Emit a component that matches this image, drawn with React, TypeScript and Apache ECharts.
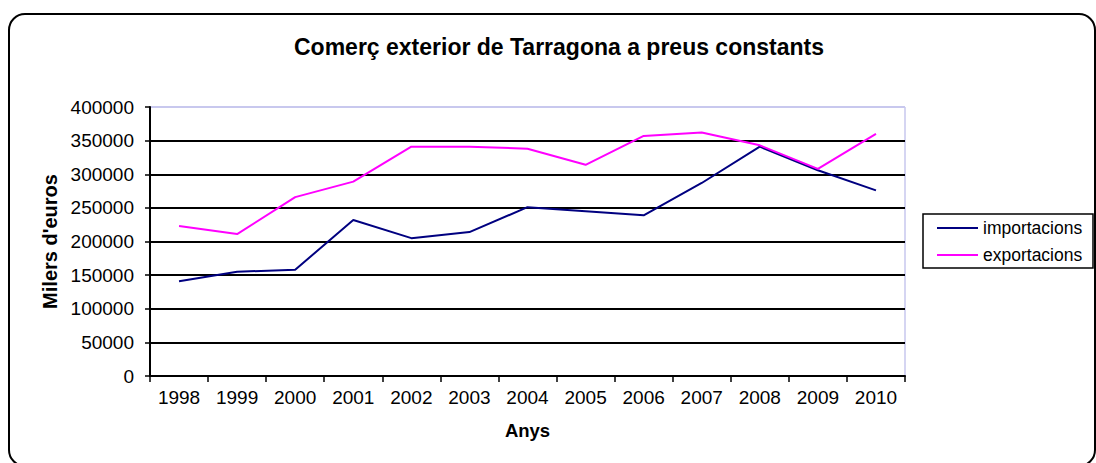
import React, { useEffect, useRef } from "react";
import * as echarts from "echarts";

const years = ["1998", "1999", "2000", "2001", "2002", "2003", "2004", "2005", "2006", "2007", "2008", "2009", "2010"];
const importacions = [141000, 155000, 158000, 232000, 205000, 214000, 251000, 245000, 239000, 287000, 341000, 306000, 276000];
const exportacions = [223000, 211000, 266000, 289000, 341000, 341000, 338000, 314000, 357000, 362000, 343000, 308000, 360000];
const titleText = "Comerç exterior de Tarragona a preus constants";
const yName = "Milers d'euros";
const xName = "Anys";

const FONT = "'Liberation Sans', Arial, sans-serif";

export default function App() {
  const ref = useRef<HTMLDivElement>(null);
  useEffect(() => {
    if (!ref.current) return;
    const chart = echarts.init(ref.current, undefined, { renderer: "svg" });
    const gridColors = ["#000", "#000", "#000", "#000", "#000", "#000", "#000", "#000", "#c8c8ee"];
    chart.setOption({
      animation: false,
      backgroundColor: "#fff",
      textStyle: { fontFamily: FONT },
      grid: { left: 150, top: 107, right: 191, bottom: 87 },
      graphic: [
        {
          type: "rect",
          shape: { x: 9, y: 14, width: 1086, height: 452, r: 16 },
          style: { fill: "none", stroke: "#000", lineWidth: 2 },
          z: 0,
        },
        {
          type: "text",
          x: 559,
          y: 47,
          style: {
            text: titleText,
            font: `bold 23px ${FONT}`,
            fill: "#000",
            align: "center",
            verticalAlign: "middle",
          },
        },
        {
          type: "rect",
          shape: { x: 905, y: 107, width: 0, height: 269 },
          style: { fill: "none", stroke: "#c8c8ee", lineWidth: 1.5 },
        },
        {
          type: "rect",
          shape: { x: 923, y: 214, width: 170, height: 54 },
          style: { fill: "none", stroke: "#000", lineWidth: 1.5 },
        },
      ],
      legend: {
        orient: "vertical",
        left: 937,
        top: 219,
        padding: 0,
        itemWidth: 41,
        itemHeight: 2,
        itemGap: 9,
        icon: "rect",
        textStyle: { fontFamily: FONT, fontSize: 17.5, color: "#000" },
        data: ["importacions", "exportacions"],
      },
      xAxis: {
        type: "category",
        data: years,
        boundaryGap: true,
        axisLine: { show: true, lineStyle: { color: "#000", width: 2 } },
        axisTick: { show: true, length: 6, lineStyle: { color: "#000", width: 1.5 } },
        axisLabel: { fontFamily: FONT, fontSize: 19, color: "#000", margin: 12, interval: 0 },
        name: xName,
        nameLocation: "middle",
        nameGap: 45,
        nameTextStyle: { fontFamily: FONT, fontSize: 18.5, fontWeight: "bold", color: "#000" },
        splitLine: { show: false },
      },
      yAxis: {
        type: "value",
        min: 0,
        max: 400000,
        interval: 50000,
        axisLine: { show: true, lineStyle: { color: "#000", width: 2 } },
        axisTick: { show: true, length: 5, lineStyle: { color: "#000", width: 1.5 } },
        axisLabel: {
          fontFamily: FONT,
          fontSize: 19,
          color: "#000",
          margin: 16,
          formatter: (v: number) => String(v),
        },
        splitLine: { show: true, lineStyle: { color: gridColors, width: 2 } },
        name: yName,
        nameLocation: "middle",
        nameGap: 87,
        nameRotate: 90,
        nameTextStyle: { fontFamily: FONT, fontSize: 20, fontWeight: "bold", color: "#000" },
      },
      series: [
        {
          name: "importacions",
          type: "line",
          data: importacions,
          symbol: "none",
          lineStyle: { color: "#000080", width: 2 },
          itemStyle: { color: "#000080" },
        },
        {
          name: "exportacions",
          type: "line",
          data: exportacions,
          symbol: "none",
          lineStyle: { color: "#ff00ff", width: 2 },
          itemStyle: { color: "#ff00ff" },
        },
      ],
    });
    return () => chart.dispose();
  }, []);
  return (
    <div
      ref={ref}
      style={{ position: "fixed", left: 0, top: 0, width: 1096, height: 463 }}
    />
  );
}
